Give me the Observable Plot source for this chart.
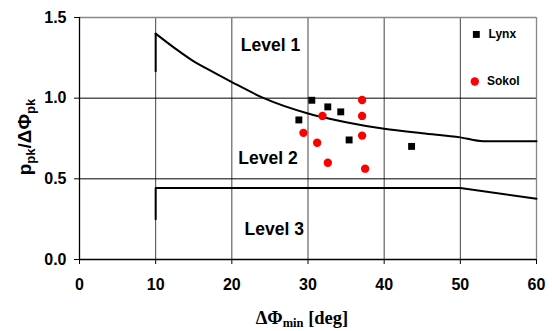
<!DOCTYPE html>
<html>
<head>
<meta charset="utf-8">
<script src="https://cdn.jsdelivr.net/npm/d3@7"></script>
<script src="https://cdn.jsdelivr.net/npm/@observablehq/plot@0.6"></script>
<style>
  html, body { margin: 0; padding: 0; background: #fff; }
  #chart { width: 552px; height: 331px; }
</style>
</head>
<body>
<div id="chart"></div>
<script>
// ---- data ----
const lynxX = [30.5, 32.6, 34.3, 28.8, 35.4, 43.6];
const lynxY = [0.987, 0.946, 0.915, 0.865, 0.741, 0.701];
const sokolX = [37.1, 31.9, 37.1, 29.4, 37.1, 31.2, 32.6, 37.5];
const sokolY = [0.989, 0.890, 0.890, 0.785, 0.768, 0.724, 0.600, 0.563];

// level 1 / level 2 boundary (vertical start, then curve)
const start12X = [10, 10];
const start12Y = [1.167, 1.40];
const bound12X = [10, 12.5, 15, 17.5, 20, 24.2, 30, 35, 40, 45, 50, 53, 60];
const bound12Y = [1.40, 1.31, 1.228, 1.163, 1.10, 1.00, 0.905, 0.851, 0.81, 0.782, 0.757, 0.733, 0.733];
// level 2 / level 3 boundary
const bound23X = [10, 10, 50, 60];
const bound23Y = [0.25, 0.443, 0.443, 0.377];

const levelNames = ["Level 1", "Level 2", "Level 3"];
const levelX = [25.07, 24.74, 25.57];
const levelY = [1.327, 0.629, 0.189];

const seriesNames = ["Lynx", "Sokol"];
const legendX = [52.1, 51.9];
const legendY = [1.395, 1.103];

const xTicks = [0, 10, 20, 30, 40, 50, 60];
const yTicks = [0, 0.5, 1.0, 1.5];
const xGrid = [10, 20, 30, 40, 50];
const yGrid = [0.5, 1.0];

// ---- tables ----
const lynx = lynxX.map((x, i) => ({x, y: lynxY[i]}));
const sokol = sokolX.map((x, i) => ({x, y: sokolY[i]}));
const s12 = start12X.map((x, i) => ({x, y: start12Y[i]}));
const b12 = bound12X.map((x, i) => ({x, y: bound12Y[i]}));
const b23 = bound23X.map((x, i) => ({x, y: bound23Y[i]}));
const levels = levelNames.map((t, i) => ({t, x: levelX[i], y: levelY[i]}));
const legend = seriesNames.map((t, i) => ({t, x: legendX[i], y: legendY[i]}));

const chart = Plot.plot({
  width: 552,
  height: 331,
  marginLeft: 79,
  marginRight: 16,
  marginTop: 17,
  marginBottom: 72,
  style: {fontFamily: "'Liberation Sans', Arial, sans-serif", fontSize: "16px", fontWeight: "bold", color: "#000", background: "#fff", overflow: "visible"},
  x: {domain: [0, 60]},
  y: {domain: [0, 1.5]},
  marks: [
    Plot.ruleX(xGrid, {stroke: "#444", strokeWidth: 1}),
    Plot.ruleY(yGrid, {stroke: "#000", strokeWidth: 1}),
    Plot.ruleX([60], {stroke: "#888", strokeWidth: 1.3}),
    Plot.ruleY([1.5], {stroke: "#888", strokeWidth: 1.3}),
    Plot.ruleX([0], {stroke: "#000", strokeWidth: 1.3}),
    Plot.ruleY([0], {stroke: "#000", strokeWidth: 1.3}),
    Plot.axisX({ticks: xTicks, tickFormat: d => d.toFixed(0), tickSize: 5, tickPadding: 14, label: null, stroke: "#000", fontSize: 16, fontWeight: "bold"}),
    Plot.axisY({ticks: yTicks, tickFormat: d => d.toFixed(1), tickSize: 5, tickPadding: 8, label: null, stroke: "#000", fontSize: 16, fontWeight: "bold"}),
    Plot.line(s12, {x: "x", y: "y", stroke: "#000", strokeWidth: 2}),
    Plot.line(b12, {x: "x", y: "y", stroke: "#000", strokeWidth: 2, curve: "monotone-x"}),
    Plot.line(b23, {x: "x", y: "y", stroke: "#000", strokeWidth: 2}),
    Plot.dot(lynx, {x: "x", y: "y", symbol: "square", r: 3.9, fill: "#000", stroke: "none"}),
    Plot.dot(sokol, {x: "x", y: "y", symbol: "circle", r: 4.2, fill: "#ff0000", stroke: "none"}),
    Plot.text(levels, {x: "x", y: "y", text: "t", fontSize: 17.5, fontWeight: "bold", fill: "#000", textAnchor: "middle"}),
    Plot.dot(legend.slice(0, 1), {x: "x", y: "y", symbol: "square", r: 3.9, fill: "#000", stroke: "none"}),
    Plot.dot(legend.slice(1), {x: "x", y: "y", symbol: "circle", r: 4.2, fill: "#ff0000", stroke: "none"}),
    Plot.text(legend, {x: d => d.x + 1.6, y: "y", text: "t", fontSize: 12, fontWeight: "bold", fill: "#000", textAnchor: "start"})
  ]
});

// axis titles with subscripts
const svg = d3.select(chart);
const yt = svg.append("text")
  .attr("transform", "translate(31,137) rotate(-90)")
  .attr("text-anchor", "middle")
  .attr("font-family", "'Liberation Sans', Arial, sans-serif")
  .attr("font-weight", "bold")
  .attr("font-size", 19)
  .attr("fill", "#000");
yt.append("tspan").text("p");
yt.append("tspan").attr("font-size", 13).attr("dy", 4).text("pk");
yt.append("tspan").attr("dy", -4).text("/ΔΦ");
yt.append("tspan").attr("font-size", 13).attr("dy", 4).text("pk");

const xt = svg.append("text")
  .attr("x", 302).attr("y", 324)
  .attr("text-anchor", "middle")
  .attr("font-family", "'Liberation Serif', 'Times New Roman', serif")
  .attr("font-weight", "bold")
  .attr("font-size", 18.5)
  .attr("fill", "#000");
xt.append("tspan").text("ΔΦ");
xt.append("tspan").attr("font-size", 12.5).attr("dy", 3).text("min");
xt.append("tspan").attr("dy", -3).text(" [deg]");

document.getElementById("chart").appendChild(chart);
</script>
</body>
</html>
